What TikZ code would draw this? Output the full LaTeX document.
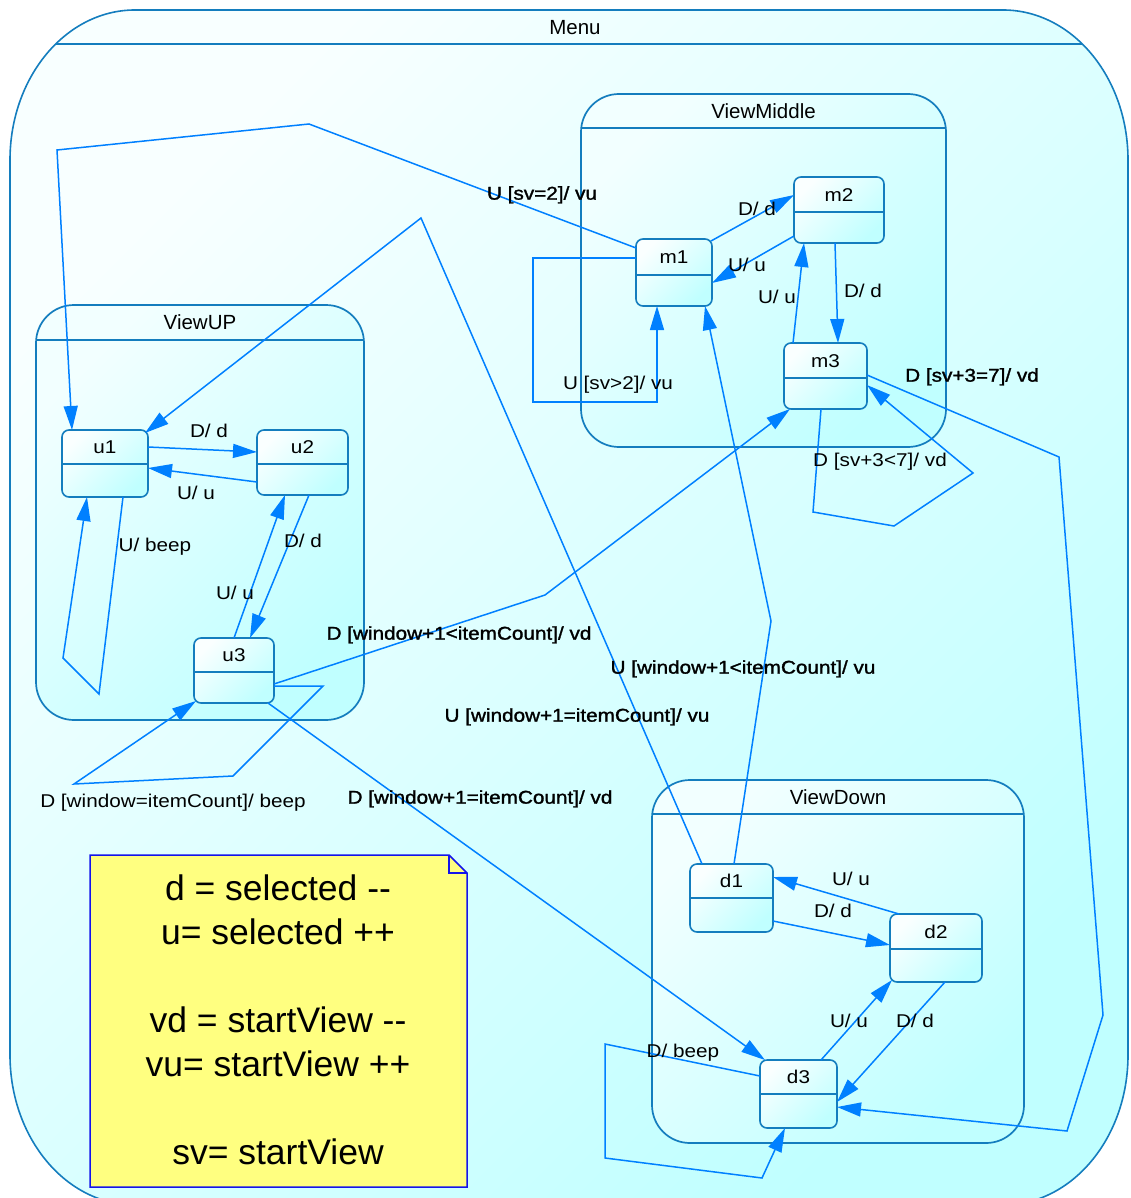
\documentclass[tikz,border=0pt]{standalone}
\usepackage{fontspec}
\setmainfont{Liberation Sans}
\newfontfamily\labfont{Liberation Sans}[FakeStretch=1.12]
\newfontfamily\boldlabfont{Liberation Sans}[FakeStretch=1.12,FakeBold=1.5]
\usetikzlibrary{arrows.meta,calc}

\definecolor{framec}{RGB}{20,125,190}
\definecolor{edgec}{RGB}{0,128,255}
\definecolor{cyanlo}{RGB}{192,255,255}
\definecolor{menuhi}{RGB}{248,255,255}
\definecolor{regionhi}{RGB}{242,255,255}
\definecolor{statehi}{RGB}{250,255,255}
\definecolor{notefill}{RGB}{255,255,128}
\definecolor{notec}{RGB}{20,20,235}

\tikzset{
  edge/.style={draw=edgec, line width=1.5pt, line join=miter,
    -{Triangle[length=24pt,width=14pt]}},
  stbox/.style={rectangle, draw=framec, line width=1.6pt, rounded corners=7pt,
    top color=statehi, bottom color=cyanlo, shading angle=45,
    anchor=north west, inner sep=0pt, outer sep=0pt},
  regionbox/.style={rectangle, draw=framec, line width=1.7pt, rounded corners=38pt,
    top color=regionhi, bottom color=cyanlo, shading angle=45,
    anchor=north west, inner sep=0pt, outer sep=0pt},
  divider/.style={draw=framec, line width=1.6pt},
  title/.style={font={\fontsize{20.5pt}{22pt}\selectfont}, inner sep=0pt,
    text height=14.7pt, text depth=0pt},
  statename/.style={font={\labfont\fontsize{18.5pt}{20pt}\selectfont}, inner sep=0pt,
    text height=13.3pt, text depth=0pt},
  lab/.style={font={\labfont\fontsize{18.5pt}{20pt}\selectfont}, inner sep=0pt,
    text height=13.3pt, text depth=0pt},
  blab/.style={font={\boldlabfont\fontsize{18.5pt}{20pt}\selectfont}, inner sep=0pt,
    text height=13.3pt, text depth=0pt},
  notetext/.style={font={\fontsize{35.5pt}{44pt}\selectfont}, align=center, inner sep=0pt},
}

% state: name, x, y, width, height, header depth
\newcommand{\stnode}[6]{%
  \node[stbox, minimum width=#4pt, minimum height=#5pt] (#1) at (#2,#3) {};
  \node[statename] (#1-name) at ($(#1.north west)+(#4/2,#6/2)$) {#1};
  \draw[divider] ($(#1.north west)+(0,#6)$) -- ($(#1.north east)+(0,#6)$);
}
% composite state: name, x, y, width, height, header depth, title
\newcommand{\regnode}[7]{%
  \node[regionbox, minimum width=#4pt, minimum height=#5pt] (#1) at (#2,#3) {};
  \node[title] (#1-title) at ($(#1.north west)+(#4/2,#6/2)$) {#7};
  \draw[divider] ($(#1.north west)+(0,#6)$) -- ($(#1.north east)+(0,#6)$);
}

\begin{document}
\begin{tikzpicture}[x=1pt,y=-1pt]
\useasboundingbox (0,0) rectangle (1130,1198);

% outer state Menu
\path[draw=framec, line width=1.6pt, top color=menuhi, bottom color=cyanlo, shading angle=45]
  (135,10) -- (1003,10) .. controls (1072,10) and (1128,77) .. (1128,160)
  -- (1128,1055) .. controls (1128,1138) and (1072,1205) .. (1003,1205)
  -- (135,1205) .. controls (66,1205) and (10,1138) .. (10,1055)
  -- (10,160) .. controls (10,77) and (66,10) .. cycle;
\draw[divider] (56,44) -- (1082,44);
\node[title] (menu-title) at (575,27) {Menu};

% composite states
\regnode{viewup}{36}{305}{328}{415}{35}{ViewUP}
\regnode{viewmiddle}{581}{94}{365}{353}{34}{ViewMiddle}
\regnode{viewdown}{652}{780}{372}{363}{34}{ViewDown}

% note
\path[draw=notec, line width=1.5pt, fill=notefill]
  (90,855) -- (449,855) -- (467,873) -- (467,1187) -- (90,1187) -- cycle;
\draw[notec, line width=1.2pt] (449,855) -- (449,873) -- (467,873);
\node[notetext] (note) at (278,1020)
  {d = selected -{}-\\u= selected ++\\[44pt]vd = startView -{}-\\vu= startView ++\\[44pt]sv= startView};

% simple states
\stnode{u1}{62}{430}{86}{67}{34}
\stnode{u2}{257}{430}{91}{65}{34}
\stnode{u3}{194}{638}{80}{65}{34}
\stnode{m1}{636}{239}{76}{67}{36}
\stnode{m2}{794}{177}{90}{66}{35}
\stnode{m3}{784}{343}{83}{66}{35}
\stnode{d1}{690}{864}{83}{68}{34}
\stnode{d2}{890}{914}{92}{68}{35}
\stnode{d3}{760}{1060}{77}{68}{34}

% transitions between views
\draw[edge] ($(m1.north west)+(0,9)$) -- (309,124) -- (57,150) -- ($(u1.north west)+(10,0)$);
\draw[edge] ($(d1.north west)+(12,0)$) -- (421,218) -- ($(u1.north east)+(-3,3)$);
\draw[edge] ($(d1.north west)+(44,0)$) -- (771,621) -- ($(m1.south west)+(69,0)$);
\draw[edge] ($(u3.north east)+(0,46)$) -- (545,595) -- ($(m3.south west)+(6,0)$);
\draw[edge] ($(u3.south east)+(-6,0)$) -- ($(d3.north west)+(5,0)$);
\draw[edge] ($(m3.north east)+(0,32)$) -- (1059,457) -- (1103,1015) -- (1067,1131) -- ($(d3.north east)+(0,47)$);

% ViewMiddle
\draw[edge] ($(m3.south west)+(37,0)$) -- (813,512) -- (894,526) -- (973,473) -- ($(m3.north east)+(0,42)$);
\draw[edge] ($(m1.north west)+(0,19)$) -- (533,258) -- (533,402) -- (657,402) -- ($(m1.south west)+(21,0)$);
\draw[edge] ($(m1.north east)+(-1,2)$) -- ($(m2.north west)+(0,18)$);
\draw[edge] ($(m2.north west)+(0,59)$) -- ($(m1.north east)+(0,44)$);
\draw[edge] ($(m2.south west)+(41,0)$) -- ($(m3.north west)+(54,0)$);
\draw[edge] ($(m3.north west)+(9,0)$) -- ($(m2.south west)+(10,0)$);

% ViewUP
\draw[edge] ($(u1.north east)+(0,17)$) -- ($(u2.north west)+(0,22)$);
\draw[edge] ($(u2.north west)+(0,52)$) -- ($(u1.north east)+(0,38)$);
\draw[edge] ($(u1.south west)+(61,0)$) -- (99,694) -- (63,658) -- ($(u1.south west)+(25,0)$);
\draw[edge] ($(u2.south west)+(52,0)$) -- ($(u3.north west)+(56,0)$);
\draw[edge] ($(u3.north west)+(40,0)$) -- ($(u2.south west)+(28,0)$);
\draw[edge] ($(u3.north east)+(0,48)$) -- (323,686) -- (233,776) -- (74,784) -- ($(u3.south west)+(2,-2)$);

% ViewDown
\draw[edge] ($(d1.north east)+(0,57)$) -- ($(d2.north west)+(0,31)$);
\draw[edge] ($(d2.north west)+(9,0)$) -- ($(d1.north east)+(0,13)$);
\draw[edge] ($(d2.south west)+(55,0)$) -- ($(d3.north east)+(0,42)$);
\draw[edge] ($(d3.north west)+(61,0)$) -- ($(d2.south west)+(2,-2)$);
\draw[edge] ($(d3.north west)+(0,16)$) -- (605,1044) -- (605,1158) -- (762,1178) -- ($(d3.south west)+(25,0)$);

% transition labels
\node[blab] (l-m1u1) at (542,193) {U [sv=2]/ vu};
\node[blab] (l-m3d3) at (972,375) {D [sv+3=7]/ vd};
\node[lab]  (l-m3m3) at (880,460) {D [sv+3<7]/ vd};
\node[lab]  (l-m1m1) at (618,383) {U [sv>2]/ vu};
\node[lab]  (l-m1m2) at (757,209) {D/ d};
\node[lab]  (l-m2m1) at (747,265) {U/ u};
\node[lab]  (l-m3m2) at (777,297) {U/ u};
\node[lab]  (l-m2m3) at (863,291) {D/ d};
\node[lab]  (l-u1u2) at (209,431) {D/ d};
\node[lab]  (l-u2u1) at (196,493) {U/ u};
\node[lab]  (l-u1u1) at (155,545) {U/ beep};
\node[lab]  (l-u2u3) at (303,541) {D/ d};
\node[lab]  (l-u3u2) at (235,593) {U/ u};
\node[blab] (l-u3m3) at (459,633) {D [window+1<itemCount]/ vd};
\node[blab] (l-d1m1) at (743,667) {U [window+1<itemCount]/ vu};
\node[blab] (l-d1u1) at (577,715) {U [window+1=itemCount]/ vu};
\node[blab] (l-u3d3) at (480,797) {D [window+1=itemCount]/ vd};
\node[lab]  (l-u3u3) at (173,801) {D [window=itemCount]/ beep};
\node[lab]  (l-d2d1) at (851,879) {U/ u};
\node[lab]  (l-d1d2) at (833,911) {D/ d};
\node[lab]  (l-d3d2) at (849,1021) {U/ u};
\node[lab]  (l-d2d3) at (915,1021) {D/ d};
\node[lab]  (l-d3d3) at (683,1051) {D/ beep};
\end{tikzpicture}
\end{document}
